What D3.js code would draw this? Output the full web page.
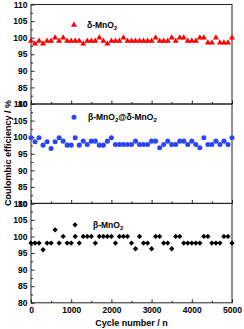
<!DOCTYPE html>
<html><head><meta charset="utf-8">
<script src="https://cdn.jsdelivr.net/npm/d3@7"></script>
<style>body{margin:0;background:#fff}svg{display:block}text{font-family:Arial,"Liberation Sans",sans-serif;font-weight:bold;fill:#000}</style>
</head><body>
<script>
const cycles = d3.range(0, 5001, 100);
const deltaCE = [99,98.2,99,98.2,99,99,100,99,100,99,99,99,99,98.2,99,99,99,100,99,98.2,99,99,99,100,99,99,99,99,99,99,99,100,99,99,99,100,99,100,100,99,99,99,100,100,98.5,98.5,100,98.5,98.5,98.5,100];
const coreShellCE = [99.8,98.6,99.8,97.6,98.6,96.6,98.6,99.8,98.8,97.6,97.6,99.8,97.6,98.8,97.8,98.8,98.8,97.6,97.6,98.8,99.8,97.8,97.8,97.8,97.8,97.8,98.8,97.8,97.8,97.8,98.8,98.8,96.8,97.8,98.8,97.8,97.8,98.8,98.8,97.8,98.8,97.8,96.8,99.8,97.8,97.8,98.8,97.8,98.8,97.8,99.8];
const betaCE = [98,98,98,96,98,98,102,98,100,98,98,100,98,100,100,100,98,100,100,100,100,98,100,100,100,98,96.3,100,98,98,96.3,100,100,98,98,96.3,100,100,98,98,98,98,98,100,100,98,98,98,100,100,98];
const yTicks = [80,85,90,95,100,105,110];
const yMinor = [82.5,87.5,92.5,97.5,102.5,107.5];
const xTicks = [0,1000,2000,3000,4000,5000];
const xMinor = [500,1500,2500,3500,4500];
const legendMarkerCE = [103.8, 106, 103.5];

const W=244,H=329;
const svg=d3.select("body").append("svg").attr("width",W).attr("height",H);
const x=d3.scaleLinear().domain([0,5000]).range([31,232]);
const panels=[
 {data:deltaCE,color:"#ff0000",shape:d3.symbolTriangle,size:16,rot:0,top:4.5,name:["δ-MnO","2"],lx:74,tx:87},
 {data:coreShellCE,color:"#2a46f5",shape:d3.symbolCircle,size:20,rot:0,top:104,name:["β-MnO","2","@δ-MnO","2"],lx:74,tx:88},
 {data:betaCE,color:"#000000",shape:d3.symbolSquare,size:14,rot:45,top:203.3,name:["β-MnO","2"],lx:75,tx:93}
];
const ph=99.5;
panels.forEach((p,i)=>{
  const y=d3.scaleLinear().domain([80,110]).range([p.top+ph,p.top]);
  const g=svg.append("g");
  g.append("rect").attr("x",x(0)).attr("y",p.top).attr("width",x(5000)-x(0)).attr("height",ph)
   .attr("fill","none").attr("stroke","#222").attr("stroke-width",1);
  const ya=g.append("g").attr("transform",`translate(${x(0)},0)`)
    .call(d3.axisLeft(y).tickValues(yTicks).tickSizeInner(-3.5).tickSizeOuter(0).tickPadding(3.5));
  ya.select(".domain").remove();
  ya.selectAll("text").attr("font-size",8.5).attr("font-family","Arial, Liberation Sans, sans-serif").attr("font-weight","bold");
  const ym=g.append("g").attr("transform",`translate(${x(0)},0)`)
    .call(d3.axisLeft(y).tickValues(yMinor).tickSizeInner(-2).tickSizeOuter(0).tickFormat(""));
  ym.select(".domain").remove();
  const xa=g.append("g").attr("transform",`translate(0,${p.top+ph})`)
    .call(d3.axisBottom(x).tickValues(xTicks).tickSizeInner(-3.5).tickSizeOuter(0).tickPadding(4)
      .tickFormat(i===2?d3.format("d"):""));
  xa.select(".domain").remove();
  xa.selectAll("text").attr("font-size",8.5).attr("font-family","Arial, Liberation Sans, sans-serif").attr("font-weight","bold");
  const xm=g.append("g").attr("transform",`translate(0,${p.top+ph})`)
    .call(d3.axisBottom(x).tickValues(xMinor).tickSizeInner(-2).tickSizeOuter(0).tickFormat(""));
  xm.select(".domain").remove();
  svg.selectAll(".tick line").attr("stroke","#222");
  const sym=d3.symbol().type(p.shape).size(p.size);
  g.selectAll("path.pt").data(p.data).join("path").attr("class","pt")
   .attr("d",sym).attr("fill",p.color)
   .attr("transform",(d,j)=>`translate(${x(cycles[j])},${y(d)}) rotate(${p.rot})`);
  const ly=y(legendMarkerCE[i]);
  g.append("path").attr("d",sym).attr("fill",p.color).attr("transform",`translate(${p.lx},${ly}) rotate(${p.rot})`);
  const t=g.append("text").attr("x",p.tx).attr("y",ly+3).attr("font-size",8.5);
  p.name.forEach((s,k)=>{
    if(k%2===1) t.append("tspan").attr("font-size",6).attr("dy",2).text(s);
    else t.append("tspan").attr("dy",k===0?0:-2).text(s);
  });
});
svg.append("text").attr("x",x(2500)).attr("y",326).attr("text-anchor","middle").attr("font-size",9).text("Cycle number / n");
svg.append("text").attr("transform","translate(10.5,153) rotate(-90)").attr("text-anchor","middle").attr("font-size",9).text("Coulombic efficiency / %");
</script>
</body></html>
